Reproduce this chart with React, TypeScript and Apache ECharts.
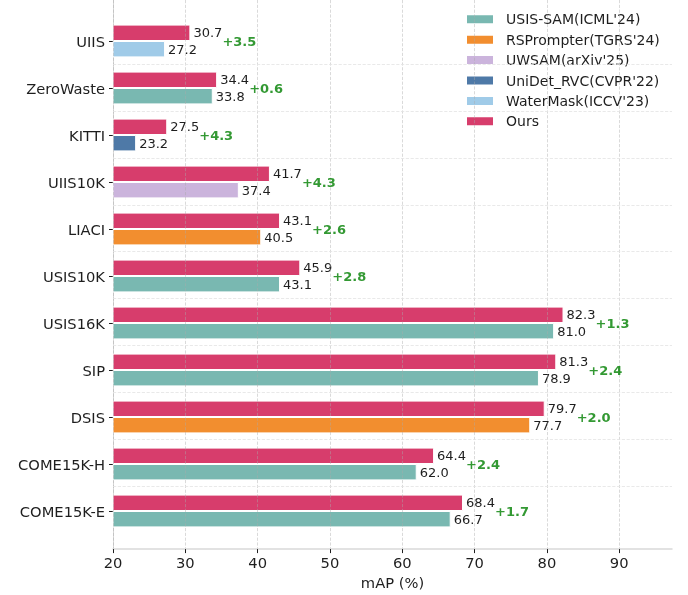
import React, { useEffect, useRef } from "react";
import * as echarts from "echarts";

const categories = ["UIIS", "ZeroWaste", "KITTI", "UIIS10K", "LIACI", "USIS10K", "USIS16K", "SIP", "DSIS", "COME15K-H", "COME15K-E"];
const oursValues = [30.7, 34.4, 27.5, 41.7, 43.1, 45.9, 82.3, 81.3, 79.7, 64.4, 68.4];
const baselineValues = [27.2, 33.8, 23.2, 37.4, 40.5, 43.1, 81.0, 78.9, 77.7, 62.0, 66.7];
const baselineMethods = [
  "WaterMask(ICCV'23)", "USIS-SAM(ICML'24)", "UniDet_RVC(CVPR'22)", "UWSAM(arXiv'25)", "RSPrompter(TGRS'24)",
  "USIS-SAM(ICML'24)", "USIS-SAM(ICML'24)", "USIS-SAM(ICML'24)", "RSPrompter(TGRS'24)", "USIS-SAM(ICML'24)", "USIS-SAM(ICML'24)",
];
const methods = ["USIS-SAM(ICML'24)", "RSPrompter(TGRS'24)", "UWSAM(arXiv'25)", "UniDet_RVC(CVPR'22)", "WaterMask(ICCV'23)"];
const methodColors = ["#79b8b1", "#f28e2f", "#cbb4dc", "#4e79a7", "#a0cbe8"];
const oursName = "Ours";
const oursColor = "#d73d6c";
const xTicks = [20, 30, 40, 50, 60, 70, 80, 90];
const xMin = 20;
const xMax = 97.3;

const FONT = "DejaVu Sans";
const TXT = "#1e1e1e";

export default function App() {
  const ref = useRef<HTMLDivElement>(null);
  useEffect(() => {
    if (!ref.current) return;
    const chart = echarts.init(ref.current, undefined, { renderer: "svg" });

    const valueLabel = {
      show: true,
      position: "right",
      distance: 3,
      fontSize: 13,
      color: TXT,
      fontFamily: FONT,
      formatter: (p: any) => Number(p.value).toFixed(1),
    };

    const baselineSeries = methods.map((m, mi) => ({
      name: m,
      type: "bar",
      stack: "baseline",
      xAxisIndex: 0,
      yAxisIndex: 0,
      barWidth: 16.4,
      barGap: "0%",
      itemStyle: { color: methodColors[mi], borderColor: "#fff", borderWidth: 1 },
      label: valueLabel,
      emphasis: { disabled: true },
      data: baselineValues.map((v, i) => (baselineMethods[i] === m ? v : "-")),
    }));

    const option: any = {
      animation: false,
      textStyle: { fontFamily: FONT },
      grid: [
        { left: 113, right: 16, top: 17.5, height: 517 },
        { left: 113, right: 16, top: 0, bottom: 44 },
      ],
      legend: {
        data: [...methods, oursName],
        orient: "vertical",
        left: 465,
        top: 12.3,
        padding: 0,
        itemWidth: 28,
        itemHeight: 10,
        itemGap: 6.4,
        icon: "rect",
        selectedMode: false,
        textStyle: { fontSize: 14, color: TXT, fontFamily: FONT, lineHeight: 14, padding: [0, 0, 0, 7] },
      },
      xAxis: [
        {
          type: "value",
          gridIndex: 0,
          position: "bottom",
          min: xMin,
          max: xMax,
          show: false,
          axisLine: { show: false },
          axisTick: { show: false },
          axisLabel: { show: false },
          splitLine: { show: false },
        },
        {
          type: "value",
          gridIndex: 1,
          position: "bottom",
          min: xMin,
          max: xMax,
          interval: 10,
          z: 5,
          name: "mAP (%)",
          nameLocation: "middle",
          nameGap: 23,
          nameTextStyle: { fontSize: 14.7, color: TXT, fontFamily: FONT },
          axisLine: { show: true, onZero: false, lineStyle: { color: "#d9d9d9", width: 1.5 } },
          axisTick: { show: true, length: 4, lineStyle: { color: TXT, width: 1 }, customValues: xTicks },
          axisLabel: { fontSize: 14.7, color: TXT, margin: 6, fontFamily: FONT, customValues: xTicks },
          splitLine: { show: true, lineStyle: { type: "dashed", color: "rgba(170,170,170,0.55)", width: 0.8 } },
        },
      ],
      yAxis: [
        {
          type: "category",
          gridIndex: 0,
          inverse: true,
          data: categories,
          axisLine: { show: false },
          axisTick: { show: true, alignWithLabel: true, length: 4, lineStyle: { color: TXT, width: 1 } },
          axisLabel: { fontSize: 14.7, color: TXT, margin: 8, fontFamily: FONT },
          splitLine: { show: false },
        },
        {
          type: "value",
          gridIndex: 1,
          inverse: true,
          min: -17.5 / 47,
          max: (551 - 17.5) / 47,
          axisLine: { show: true, onZero: false, lineStyle: { color: "#d9d9d9", width: 1 } },
          axisTick: { show: false },
          axisLabel: { show: false },
          splitLine: { show: false },
        },
      ],
      series: [
        {
          name: oursName,
          type: "bar",
          xAxisIndex: 0,
          yAxisIndex: 0,
          barWidth: 16.4,
          barGap: "0%",
          itemStyle: { color: oursColor, borderColor: "#fff", borderWidth: 1 },
          label: valueLabel,
          emphasis: { disabled: true },
          data: oursValues,
        },
        ...baselineSeries,
        {
          name: "delta",
          type: "scatter",
          xAxisIndex: 0,
          yAxisIndex: 0,
          symbolSize: 0,
          silent: true,
          z: 6,
          label: {
            show: true,
            position: "right",
            distance: 32,
            fontSize: 13,
            fontWeight: "bold",
            color: "#008000",
            fontFamily: FONT,
            formatter: (p: any) => "+" + (oursValues[p.dataIndex] - baselineValues[p.dataIndex]).toFixed(1),
          },
          emphasis: { disabled: true },
          data: oursValues.map((v, i) => [v, i]),
        },
        {
          name: "hgrid",
          type: "line",
          xAxisIndex: 1,
          yAxisIndex: 1,
          data: [],
          silent: true,
          z: 1,
          markLine: {
            silent: true,
            animation: false,
            symbol: ["none", "none"],
            label: { show: false },
            lineStyle: { type: "dashed", color: "#e3e3e3", width: 0.8 },
            data: categories.slice(1).map((_, i) => ({ yAxis: i + 1 })),
          },
        },
      ],
    };
    chart.setOption(option);
    return () => chart.dispose();
  }, []);
  return <div ref={ref} style={{ position: "fixed", left: 0, top: 0, width: 688, height: 595 }} />;
}
